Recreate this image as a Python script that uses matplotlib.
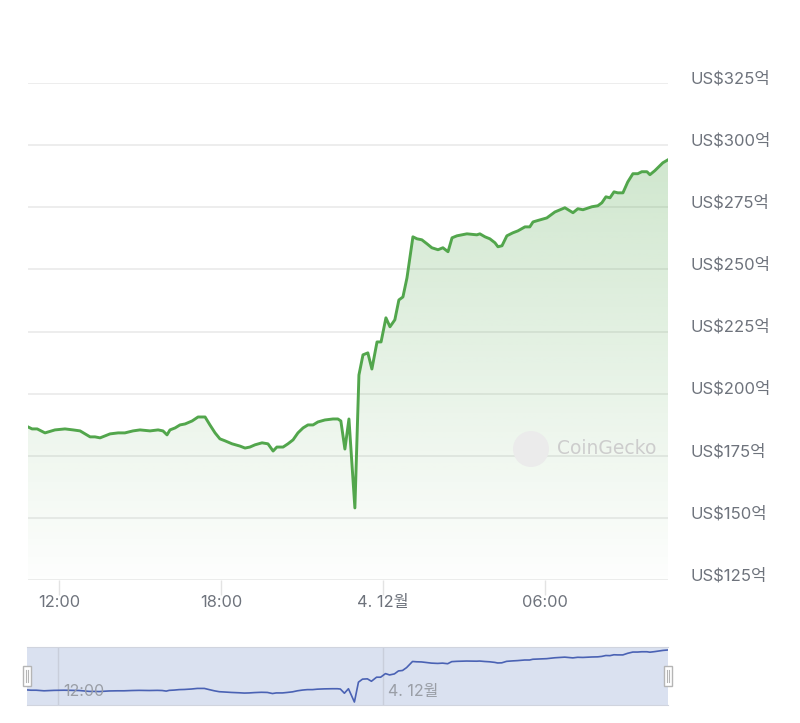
import numpy as np
import matplotlib.pyplot as plt
from matplotlib.patches import Polygon, Rectangle, Circle
from matplotlib.lines import Line2D
from matplotlib import transforms

plt.rcParams['font.family'] = ['Inter', 'Noto Sans CJK KR', 'DejaVu Sans']

# hours relative to 4.12 00:00, market cap in 억 USD
hours = [-13.15, -13.00, -12.81, -12.52, -12.15, -11.78, -11.48, -11.22, -10.85, -10.67,
         -10.48, -10.11, -9.81, -9.56, -9.26, -9.00, -8.63, -8.33, -8.15, -8.00,
         -7.89, -7.70, -7.52, -7.33, -7.07, -6.85, -6.59, -6.41, -6.22, -6.04,
         -5.85, -5.59, -5.30, -5.11, -4.93, -4.74, -4.48, -4.26, -4.07, -3.93,
         -3.70, -3.52, -3.33, -3.15, -2.96, -2.78, -2.59, -2.41, -2.15, -1.85,
         -1.67, -1.56, -1.41, -1.26, -1.04, -0.89, -0.74, -0.56, -0.41, -0.22,
         -0.07, 0.11, 0.26, 0.44, 0.59, 0.74, 0.89, 1.11, 1.26, 1.44,
         1.63, 1.81, 2.04, 2.22, 2.41, 2.56, 2.74, 3.11, 3.48, 3.59,
         3.78, 3.96, 4.15, 4.26, 4.41, 4.59, 4.81, 5.00, 5.26, 5.44,
         5.56, 5.81, 6.07, 6.37, 6.74, 7.04, 7.22, 7.41, 7.74, 7.96,
         8.11, 8.26, 8.41, 8.56, 8.70, 8.89, 9.07, 9.26, 9.44, 9.59,
         9.78, 9.89, 10.07, 10.37, 10.56]
cap = [186.6, 185.8, 185.8, 184.2, 185.4, 185.8, 185.4, 185.0, 182.6, 182.6,
       182.2, 183.8, 184.2, 184.2, 185.0, 185.4, 185.0, 185.4, 185.0, 183.4,
       185.4, 186.2, 187.4, 187.8, 189.0, 190.6, 190.6, 187.4, 184.2, 181.8,
       181.0, 179.8, 178.9, 178.1, 178.5, 179.4, 180.2, 179.8, 176.9, 178.5,
       178.5, 179.8, 181.4, 184.2, 186.2, 187.4, 187.4, 188.6, 189.4, 189.8,
       189.8, 189.0, 177.7, 189.8, 154.0, 207.5, 215.6, 216.4, 209.9, 220.8,
       220.8, 230.5, 226.9, 229.7, 237.7, 238.9, 246.6, 263.1, 262.3, 261.9,
       260.3, 258.7, 257.9, 258.7, 257.1, 262.7, 263.5, 264.3, 263.9, 264.3,
       263.1, 262.3, 260.7, 259.1, 259.5, 263.5, 264.7, 265.5, 267.1, 267.1,
       269.1, 269.9, 270.7, 273.1, 274.8, 272.8, 274.4, 274.0, 275.2, 275.6,
       276.8, 279.2, 278.8, 281.2, 280.8, 280.8, 285.2, 288.5, 288.5, 289.3,
       289.3, 288.1, 289.7, 292.9, 294.1]

y_ticks = [125, 150, 175, 200, 225, 250, 275, 300, 325]
y_labels = [f"US${v}억" for v in y_ticks]
x_ticks = [-12, -6, 0, 6]
x_labels = ["12:00", "18:00", "4. 12월", "06:00"]
nav_ticks = [-12, 0]
nav_labels = ["12:00", "4. 12월"]

green = "#52a64c"
text_col = "#6e737c"
grid_col = "#ececec"

fig = plt.figure(figsize=(8, 7.23), dpi=100)
ax = fig.add_axes([28 / 800, 1 - 580 / 723, 640 / 800, 497 / 723])
x0, x1 = hours[0], hours[-1]

# gradient area under the line
rgba = np.zeros((256, 1, 4))
rgba[..., :3] = plt.matplotlib.colors.to_rgb(green)
rgba[..., 3] = np.linspace(0.32, 0.01, 256)[:, None]
im = ax.imshow(rgba, extent=[x0, x1, 125, 325], aspect="auto", origin="upper", zorder=1)
poly = Polygon(np.column_stack([hours + [x1, x0], cap + [125, 125]]),
               closed=True, facecolor="none", edgecolor="none")
ax.add_patch(poly)
im.set_clip_path(poly)

ax.plot(hours, cap, color=green, lw=2.1, zorder=3, solid_joinstyle="round")

ax.set_xlim(x0, x1)
ax.set_ylim(125, 325)
for s in ax.spines.values():
    s.set_visible(False)
ax.set_yticks(y_ticks)
ax.yaxis.grid(True, color=grid_col, lw=1.3)
ax.set_axisbelow(True)
ax.yaxis.tick_right()
ax.set_yticklabels(y_labels, fontsize=12, color=text_col)
ax.tick_params(axis="y", length=0, pad=16)
off = transforms.ScaledTranslation(0, 0.06, fig.dpi_scale_trans)
for lab in ax.get_yticklabels():
    lab.set_transform(lab.get_transform() + off)

ax.set_xticks(x_ticks)
ax.set_xticklabels(x_labels, fontsize=11.8, color=text_col)
ax.tick_params(axis="x", length=11, width=1, color="#e3e3e3", pad=0)

# watermark
fig.add_artist(Circle((5.31, (723 - 449) / 100), 0.18, transform=fig.dpi_scale_trans,
                      facecolor="#ebebeb", edgecolor="none", zorder=4))
fig.text(557 / 800, 1 - 448 / 723, "CoinGecko", fontsize=13.5, color="#cdcdcd",
         va="center", ha="left", family=["DejaVu Sans"])

# navigator
nav = fig.add_axes([27 / 800, 1 - 705 / 723, 641 / 800, 58 / 723])
nav.plot(hours, cap, color="#4a62b4", lw=1.2, zorder=3)
nav.set_xlim(x0, x1)
nav.set_ylim(min(cap) - 8, max(cap) + 8)
nav.set_facecolor((102 / 255, 133 / 255, 194 / 255, 0.24))
for s in nav.spines.values():
    s.set_visible(False)
nav.spines["top"].set_visible(True)
nav.spines["top"].set_color("#d0d4de")
nav.spines["bottom"].set_visible(True)
nav.spines["bottom"].set_color("#d0d4de")
nav.set_yticks([])
nav.set_xticks(nav_ticks)
nav.set_xticklabels([])
nav.tick_params(axis="x", length=0)
nav.xaxis.grid(True, color="#c9cedb", lw=1)
nav.set_axisbelow(True)
for t, lab in zip(nav_ticks, nav_labels):
    nav.text(t, 0.24, lab, transform=nav.get_xaxis_transform(), fontsize=11.5,
             color="#9a9ea6", ha="left", va="center")
    nav.texts[-1].set_transform(nav.get_xaxis_transform() +
                                transforms.ScaledTranslation(0.05, 0, fig.dpi_scale_trans))

# handles
for hx in (27, 668):
    fig.add_artist(Rectangle(((hx - 4) / 100, (723 - 686) / 100), 0.08, 0.2,
                             transform=fig.dpi_scale_trans, facecolor="white",
                             edgecolor="#b5b5b5", lw=1, zorder=5))
    for dx in (-1.2, 1.2):
        fig.add_artist(Line2D([(hx + dx) / 100] * 2, [(723 - 682) / 100, (723 - 670) / 100],
                              transform=fig.dpi_scale_trans, color="#b5b5b5", lw=0.8, zorder=6))

fig.savefig("out.png", dpi=100)
